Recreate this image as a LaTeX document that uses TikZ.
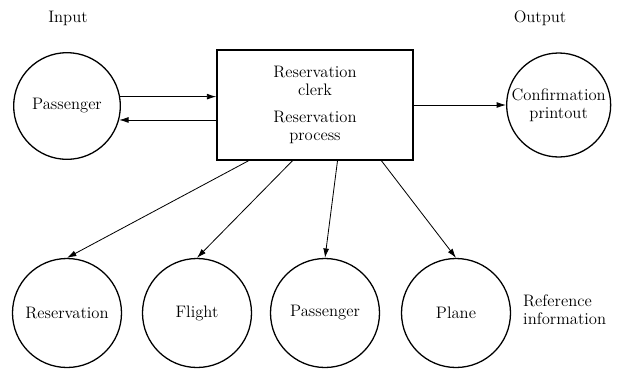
\documentclass[tikz,border=0pt]{standalone}
\usetikzlibrary{arrows.meta}

\begin{document}
\begin{tikzpicture}[
    font=\fontsize{14.2}{15.4}\selectfont,
    entity/.style={circle, draw, line width=1.1pt, inner sep=0pt, minimum size=3.2cm, align=center},
    process/.style={rectangle, draw, line width=1.2pt, minimum width=5.88cm, minimum height=3.3cm, align=center},
    arrow/.style={-{Latex[length=8pt,width=5pt]}, line width=0.7pt},
    heading/.style={inner sep=0pt}
]
    \useasboundingbox (0,0) rectangle (18.6,11.1);

    % Headings
    \node[heading] (in)  at (2.04,10.56) {Input};
    \node[heading] (out) at (16.2,10.56) {Output};

    % Upper row
    \node[entity] (pass) at (2.01,7.92) {Passenger};
    \node[process] (clerk) at (9.45,7.95) {Reservation\\clerk\\[8pt]Reservation\\process};
    \node[entity, minimum size=3.12cm] (conf) at (16.76,7.95) {Confirmation\\printout};

    % Lower row
    \node[entity, minimum size=3.27cm] (resv)  at (2.01,1.71) {Reservation};
    \node[entity, minimum size=3.27cm] (fli)   at (5.91,1.71) {Flight};
    \node[entity, minimum size=3.27cm] (pass2) at (9.75,1.71) {Passenger};
    \node[entity, minimum size=3.27cm] (plane) at (13.68,1.71) {Plane};
    \node[heading, anchor=west, align=left] (ref) at (15.69,1.8) {Reference\\information};

    % Input and output
    \draw[arrow] (pass.10) -- (pass.10 -| clerk.west);
    \draw[arrow] (pass.-15 -| clerk.west) -- (pass.-15);
    \draw[arrow] (clerk.east) -- (conf.west);

    % Reference lookups
    \draw[arrow] (clerk.220) -- (resv.north);
    \draw[arrow] (clerk.248) -- (fli.north);
    \draw[arrow] (clerk.292) -- (pass2.north);
    \draw[arrow] (clerk.320) -- (plane.north);
\end{tikzpicture}
\end{document}
